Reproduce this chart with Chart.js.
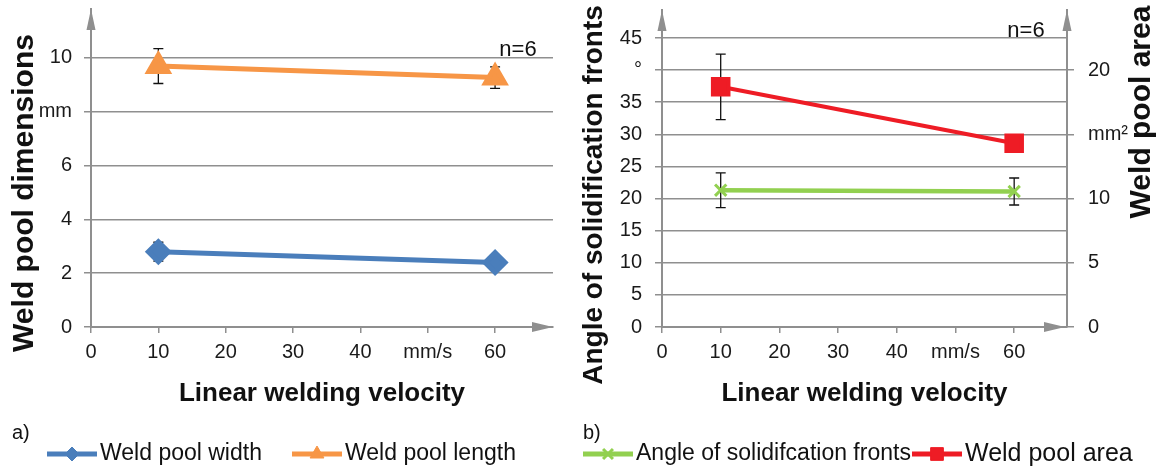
<!DOCTYPE html>
<html lang="en">
  <head>
    <meta charset="UTF-8" />
    <title>Weld pool vs linear welding velocity</title>
    <style>
      body {
        margin: 0;
        background: #fff;
        width: 1165px;
        height: 468px;
        overflow: hidden;
        position: relative;
      }
      .panel {
        position: absolute;
        top: 0;
        height: 468px;
      }
      #panelA { left: 0; width: 580px; }
      #panelB { left: 575px; width: 590px; }
    </style>
  </head>
  <body>
    <div class="panel" id="panelA"><canvas id="chartA" width="580" height="468"></canvas></div>
    <div class="panel" id="panelB"><canvas id="chartB" width="590" height="468"></canvas></div>

    <script src="https://cdn.jsdelivr.net/npm/chart.js"></script>
    <script>
      // data
      const velocity = [10, 60];
      const poolWidth = [2.8, 2.4];
      const poolWidthErr = [0.35, 0.1];
      const poolLength = [9.7, 9.27];
      const poolLengthErr = [0.65, 0.4];
      const frontAngle = [21.3, 21.1];
      const frontAngleErr = [2.7, 2.1];
      const poolArea = [18.7, 14.3];
      const poolAreaErr = [2.55, 0.5];

      // tick values and labels
      const xTickValues = [0, 10, 20, 30, 40, 50, 60];
      const xTickLabels = ["0", "10", "20", "30", "40", "mm/s", "60"];
      const dimTicks = [0, 2, 4, 6, 8, 10];
      const dimTickLabels = ["0", "2", "4", "6", "mm", "10"];
      const angleTicks = [0, 5, 10, 15, 20, 25, 30, 35, 40, 45];
      const angleTickLabels = ["0", "5", "10", "15", "20", "25", "30", "35", "°", "45"];
      const areaTicks = [0, 5, 10, 15, 20];
      const areaTickLabels = ["0", "5", "10", "mm²", "20"];

      const FONT = '"Liberation Sans", Arial, sans-serif';
      const GRID = "#8f8f8f";
      const BLUE = "#4a7ebb";
      const ORANGE = "#f79646";
      const GREEN = "#92d050";
      const RED = "#ee1c25";

      Chart.defaults.font.family = FONT;
      Chart.defaults.color = "#1a1a1a";

      function fixedTicks(values) {
        return (scale) => {
          scale.ticks = values.map((v) => ({ value: v }));
        };
      }
      function labelFrom(labels) {
        return (value, index) => labels[index];
      }
      function points(ys) {
        return velocity.map((v, i) => ({ x: v, y: ys[i] }));
      }
      // fixed box size, and no extra room asked for the end labels
      function fitTo(prop, size) {
        return (s) => {
          s[prop] = size;
          s.paddingTop = 0;
          s.paddingBottom = 0;
          s.paddingLeft = 0;
          s.paddingRight = 0;
        };
      }

      // error bars, drawn under the markers
      const errorBars = {
        id: "errorBars",
        beforeDatasetsDraw(chart) {
          const ctx = chart.ctx;
          chart.data.datasets.forEach((ds) => {
            if (!ds.errors) return;
            const xs = chart.scales.x;
            const ys = chart.scales[ds.yAxisID || "y"];
            ctx.save();
            ctx.strokeStyle = "#111";
            ctx.lineWidth = 1.3;
            ds.data.forEach((p, j) => {
              const x = xs.getPixelForValue(p.x);
              const top = ys.getPixelForValue(p.y + ds.errors[j]);
              const bot = ys.getPixelForValue(p.y - ds.errors[j]);
              ctx.beginPath();
              ctx.moveTo(x, top);
              ctx.lineTo(x, bot);
              ctx.moveTo(x - 5, top);
              ctx.lineTo(x + 5, top);
              ctx.moveTo(x - 5, bot);
              ctx.lineTo(x + 5, bot);
              ctx.stroke();
            });
            ctx.restore();
          });
        },
      };

      // arrow heads at the axis ends
      const axisArrows = {
        id: "axisArrows",
        afterDraw(chart) {
          const ctx = chart.ctx;
          const ca = chart.chartArea;
          ctx.save();
          ctx.fillStyle = GRID;
          const up = (x, y) => {
            ctx.beginPath();
            ctx.moveTo(x, y);
            ctx.lineTo(x - 4.5, y + 21);
            ctx.lineTo(x + 4.5, y + 21);
            ctx.closePath();
            ctx.fill();
          };
          const right = (x, y) => {
            ctx.beginPath();
            ctx.moveTo(x, y);
            ctx.lineTo(x - 21, y - 5);
            ctx.lineTo(x - 21, y + 5);
            ctx.closePath();
            ctx.fill();
          };
          up(ca.left, ca.top);
          if (chart.scales.y2) {
            up(ca.right, ca.top);
            right(ca.right - 2, ca.bottom);
          } else {
            right(ca.right, ca.bottom);
          }
          ctx.restore();
        },
      };

      // rotated titles, n=6, panel letter and the legend
      function makeDecor(cfg) {
        return {
          id: "decor",
          afterDraw(chart) {
            const ctx = chart.ctx;
            ctx.save();
            ctx.fillStyle = "#111";
            ctx.textBaseline = "middle";

            cfg.sideTitles.forEach((t) => {
              ctx.save();
              ctx.translate(t.x, t.y);
              ctx.rotate(-Math.PI / 2);
              ctx.font = "bold " + t.size + "px " + FONT;
              ctx.textAlign = "center";
              ctx.fillText(t.text, 0, 0);
              ctx.restore();
            });

            ctx.font = "22px " + FONT;
            ctx.textAlign = "center";
            ctx.fillText("n=6", cfg.note.x, cfg.note.y);

            ctx.font = "20px " + FONT;
            ctx.textAlign = "left";
            ctx.fillText(cfg.letter.text, cfg.letter.x, cfg.letter.y);

            cfg.legend.forEach((item) => {
              const ds = chart.data.datasets[item.dataset];
              const y = cfg.legendY;
              ctx.strokeStyle = ds.borderColor;
              ctx.fillStyle = ds.borderColor;
              ctx.lineWidth = 5;
              ctx.beginPath();
              ctx.moveTo(item.x, y);
              ctx.lineTo(item.x + 50, y);
              ctx.stroke();
              ctx.lineWidth = item.markerWidth || 1;
              Chart.helpers.drawPoint(
                ctx,
                { pointStyle: ds.pointStyle, radius: item.radius, borderWidth: item.markerWidth || 1, rotation: 0 },
                item.x + 25,
                y
              );
              ctx.fillStyle = "#111";
              ctx.font = item.font + "px " + FONT;
              ctx.textAlign = "left";
              ctx.fillText(ds.label, item.x + 53, y);
            });
            ctx.restore();
          },
        };
      }

      const tickFont = { size: 20 };
      const xTitleFont = { size: 26, weight: "bold" };

      function xScale(max) {
        return {
          type: "linear",
          min: 0,
          max: max,
          afterBuildTicks: fixedTicks(xTickValues),
          afterFit: fitTo("height", 82),
          grid: { drawOnChartArea: false, drawTicks: true, tickLength: 6, color: GRID, lineWidth: 1.5 },
          border: { color: GRID, width: 2 },
          ticks: { font: tickFont, padding: 7, maxRotation: 0, autoSkip: false, callback: labelFrom(xTickLabels) },
          title: { display: true, text: "Linear welding velocity", font: xTitleFont, padding: 0, color: "#111" },
        };
      }

      // panel a)
      new Chart(document.getElementById("chartA"), {
        type: "line",
        data: {
          datasets: [
            {
              label: "Weld pool width",
              data: points(poolWidth),
              errors: poolWidthErr,
              borderColor: BLUE,
              backgroundColor: BLUE,
              borderWidth: 5,
              pointStyle: "rectRot",
              pointRadius: 10,
            },
            {
              label: "Weld pool length",
              data: points(poolLength),
              errors: poolLengthErr,
              borderColor: ORANGE,
              backgroundColor: ORANGE,
              borderWidth: 5,
              pointStyle: "triangle",
              pointRadius: 11,
            },
          ],
        },
        options: {
          responsive: false,
          animation: false,
          layout: { autoPadding: false, padding: { top: 9, right: 27, bottom: 59, left: 0 } },
          plugins: { legend: { display: false }, tooltip: { enabled: false } },
          scales: {
            x: xScale(68.6),
            y: {
              min: 0,
              max: 11.82,
              afterBuildTicks: fixedTicks(dimTicks),
              afterFit: fitTo("width", 91),
              grid: { color: GRID, lineWidth: 1.5, tickLength: 7 },
              border: { color: GRID, width: 2 },
              ticks: { font: tickFont, padding: 12, autoSkip: false, callback: labelFrom(dimTickLabels) },
            },
          },
        },
        plugins: [
          errorBars,
          axisArrows,
          makeDecor({
            sideTitles: [{ text: "Weld pool dimensions", x: 25, y: 193, size: 30 }],
            note: { x: 518, y: 50 },
            letter: { text: "a)", x: 12, y: 433 },
            legendY: 454,
            legend: [
              { dataset: 0, x: 47, radius: 7, font: 23 },
              { dataset: 1, x: 292, radius: 8, font: 23 },
            ],
          }),
        ],
      });

      // panel b)
      new Chart(document.getElementById("chartB"), {
        type: "line",
        data: {
          datasets: [
            {
              label: "Angle of solidifcation fronts",
              data: points(frontAngle),
              errors: frontAngleErr,
              yAxisID: "y",
              borderColor: GREEN,
              backgroundColor: GREEN,
              borderWidth: 4.5,
              pointStyle: "crossRot",
              pointRadius: 8,
              pointBorderWidth: 3,
            },
            {
              label: "Weld pool area",
              data: points(poolArea),
              errors: poolAreaErr,
              yAxisID: "y2",
              borderColor: RED,
              backgroundColor: RED,
              borderWidth: 4,
              pointStyle: "rect",
              pointRadius: 11,
            },
          ],
        },
        options: {
          responsive: false,
          animation: false,
          layout: { autoPadding: false, padding: { top: 10, right: 0, bottom: 59, left: 0 } },
          plugins: { legend: { display: false }, tooltip: { enabled: false } },
          scales: {
            x: xScale(69),
            y: {
              position: "left",
              min: 0,
              max: 49.36,
              afterBuildTicks: fixedTicks(angleTicks),
              afterFit: fitTo("width", 87),
              grid: { color: GRID, lineWidth: 1.5, tickLength: 7 },
              border: { color: GRID, width: 2 },
              ticks: { font: tickFont, padding: 13, autoSkip: false, callback: labelFrom(angleTickLabels) },
            },
            y2: {
              position: "right",
              min: 0,
              max: 24.68,
              afterBuildTicks: fixedTicks(areaTicks),
              afterFit: fitTo("width", 98),
              grid: { drawOnChartArea: false, drawTicks: true, color: GRID, lineWidth: 1.5, tickLength: 7 },
              border: { color: GRID, width: 2 },
              ticks: { font: tickFont, padding: 14, autoSkip: false, callback: labelFrom(areaTickLabels) },
            },
          },
        },
        plugins: [
          errorBars,
          axisArrows,
          makeDecor({
            sideTitles: [
              { text: "Angle of solidification fronts", x: 19, y: 195, size: 28 },
              { text: "Weld pool area", x: 567, y: 112, size: 30 },
            ],
            note: { x: 451, y: 31 },
            letter: { text: "b)", x: 8, y: 433 },
            legendY: 454,
            legend: [
              { dataset: 0, x: 8, radius: 7, markerWidth: 3, font: 23 },
              { dataset: 1, x: 337, radius: 9, font: 25 },
            ],
          }),
        ],
      });
    </script>
  </body>
</html>
